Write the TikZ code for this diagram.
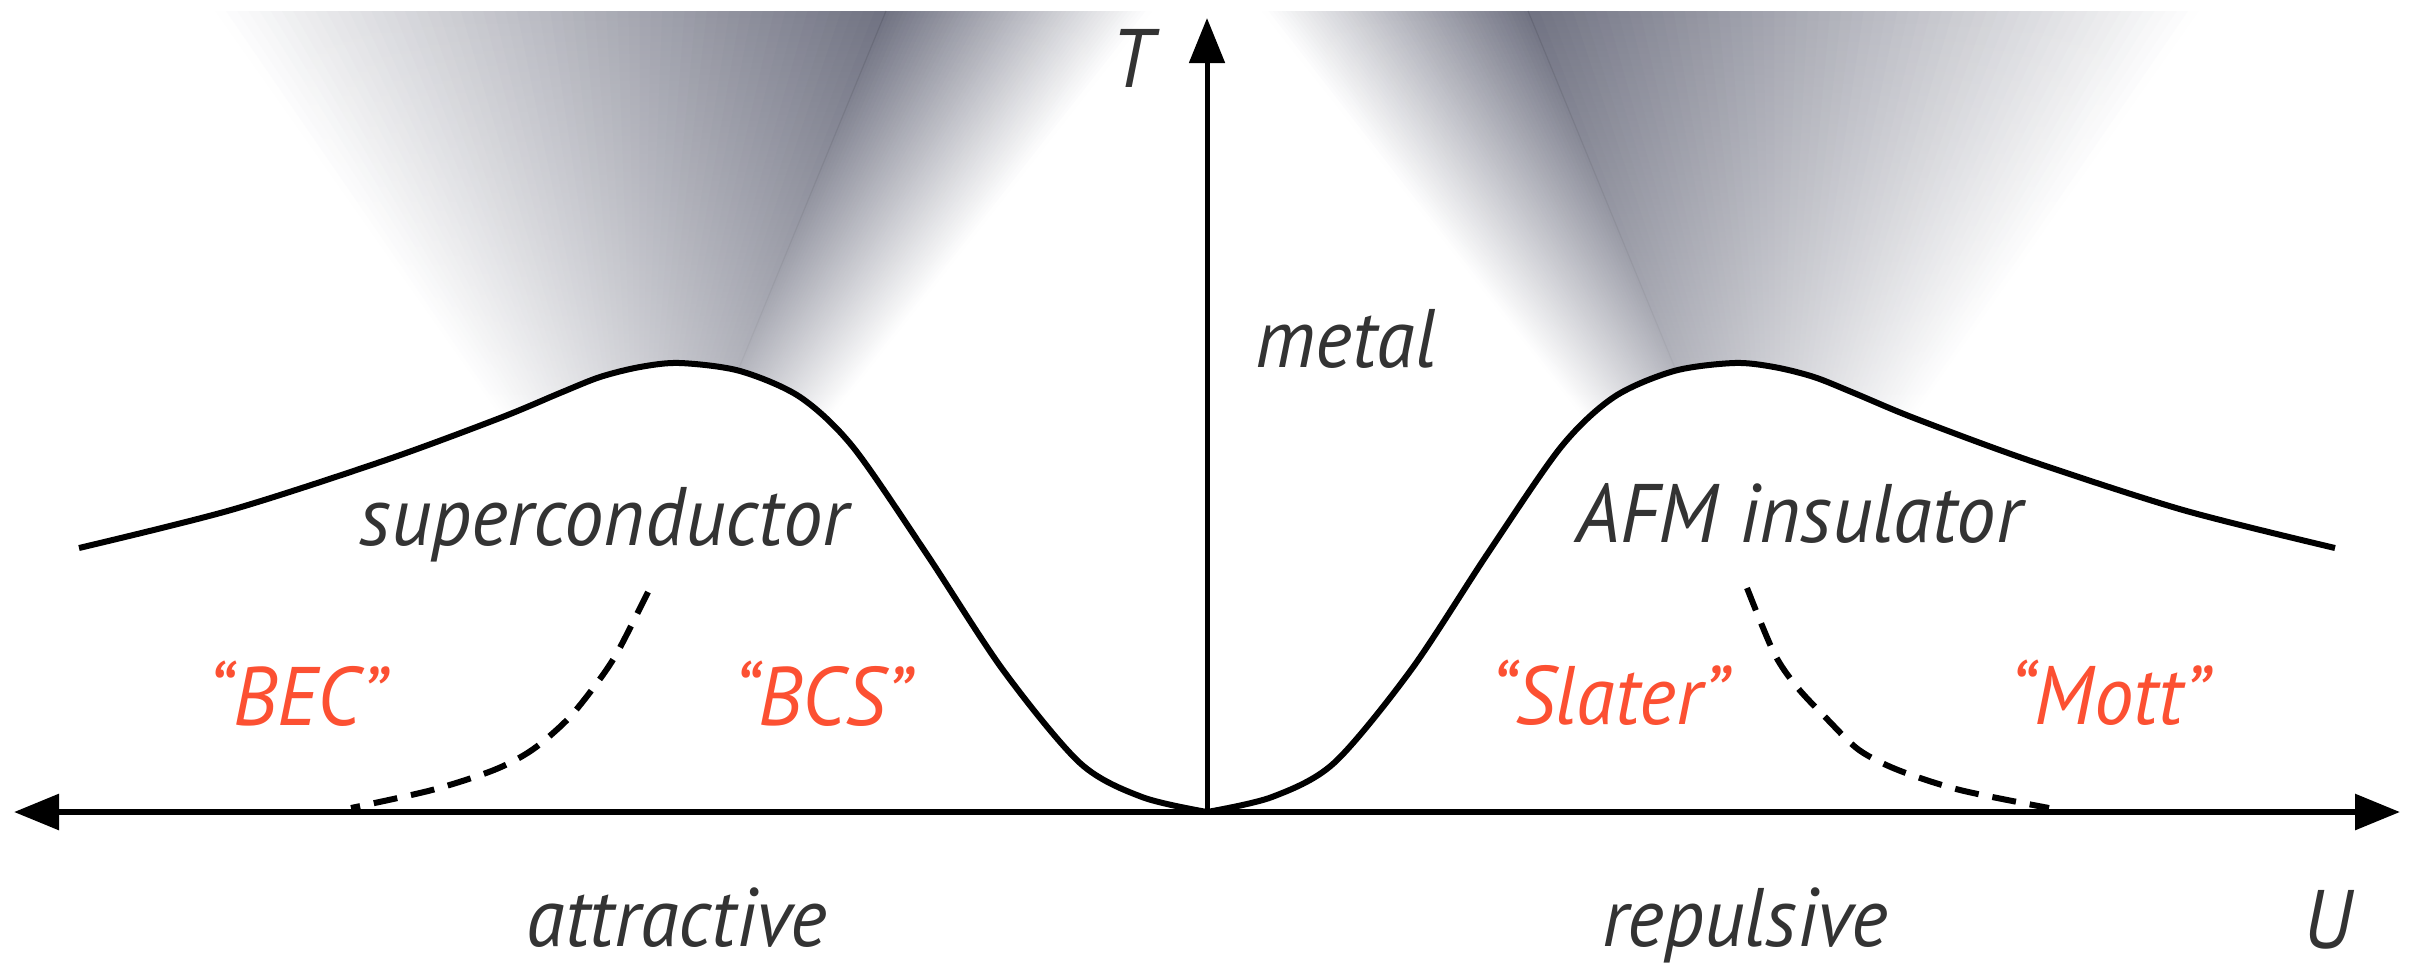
\documentclass[tikz,border=0pt]{standalone}
\usepackage{fontspec}
\newfontfamily\labfont{PT Sans}[FakeStretch=0.95]
\usetikzlibrary{arrows.meta,fadings}
\definecolor{shd}{RGB}{112,114,130}
\definecolor{txt}{RGB}{51,51,51}
\definecolor{hot}{RGB}{252,80,50}
\tikzfading[name=downfade, top color=transparent!100, bottom color=transparent!40]
\begin{document}
\begin{tikzpicture}[x=0.01cm,y=-0.01cm,
  lab/.style={font=\labfont\itshape\fontsize{23.6}{28}\selectfont, text=txt, inner sep=0, anchor=base},
  regime/.style={lab, text=hot},
  axisline/.style={line width=0.06cm, -{Triangle[length=0.45cm,width=0.35cm]}},
  tcline/.style={line width=0.06cm, line join=round},
  crossover/.style={line width=0.06cm, dash pattern=on 0.24cm off 0.14cm},
  crease/.style={shd!70!black, line width=0.012cm, opacity=0.35}]
\useasboundingbox (0,0) rectangle (2415,966);

% ---- shaded fans above the two domes (solid overlapping stripes)
\foreach \s in {1,-1}{
  \foreach \i in {0,...,59}{
    \pgfmathsetmacro{\ta}{\i/60}
    \pgfmathsetmacro{\tb}{(\i+1.6)/60}
    \pgfmathsetmacro{\xat}{1207+\s*(215+(886-215)*\ta-1207)}
    \pgfmathsetmacro{\xbt}{1207+\s*(215+(886-215)*\tb-1207)}
    \pgfmathsetmacro{\xab}{1207+\s*(539+(697-539)*\ta-1207)}
    \pgfmathsetmacro{\xbb}{1207+\s*(539+(697-539)*\tb-1207)}
    \pgfmathsetmacro{\pt}{100*(\i+0.5)/60}
    \fill[shd!\pt!white] (\xat,11) -- (\xbt,11) -- (\xbb,470) -- (\xab,470) -- cycle;
  }
  \foreach \i in {0,...,59}{
    \pgfmathsetmacro{\ta}{\i/60}
    \pgfmathsetmacro{\tb}{(\i+1.6)/60}
    \pgfmathsetmacro{\xat}{1207+\s*(886+(1150-886)*\ta-1207)}
    \pgfmathsetmacro{\xbt}{1207+\s*(886+(1150-886)*\tb-1207)}
    \pgfmathsetmacro{\xab}{1207+\s*(697+(788-697)*\ta-1207)}
    \pgfmathsetmacro{\xbb}{1207+\s*(697+(788-697)*\tb-1207)}
    \pgfmathsetmacro{\pt}{100*(1-(\i+0.5)/60)}
    \fill[shd!\pt!white] (\xat,11) -- (\xbt,11) -- (\xbb,470) -- (\xab,470) -- cycle;
  }
}
% faint creases along the ridges
\draw[crease] (886,11) -- (697,470);
\draw[crease] (1528,11) -- (1717,470);
% vertical lightening towards the domes
\fill[white, path fading=downfade] (150,11) rectangle (2265,470);

% ---- white interiors of the domes
\fill[white] plot[smooth] coordinates {(79,548) (231,510) (386,460) (500,418) (560,393) (600,377) (640,367) (680,363) (740,371) (800,397) (853,447) (926,553) (1003,670) (1080,763) (1142,797) (1207,812)} -- (79,812) -- cycle;
\fill[white] plot[smooth] coordinates {(2335,548) (2183,510) (2028,460) (1914,418) (1854,393) (1814,377) (1774,367) (1734,363) (1674,371) (1614,397) (1561,447) (1488,553) (1411,670) (1334,763) (1272,797) (1207,812)} -- (2335,812) -- cycle;

% ---- axes
\coordinate (O) at (1207,812);
\coordinate (Uneg) at (14,812);
\coordinate (Upos) at (2400,812);
\coordinate (Ttop) at (1207,18);
\draw[axisline] (O) -- (Uneg);
\draw[axisline] (O) -- (Upos);
\draw[axisline, line width=0.05cm] (O) -- (Ttop);

% ---- transition lines
\draw[tcline] plot[smooth] coordinates {(79,548) (231,510) (386,460) (500,418) (560,393) (600,377) (640,367) (680,363) (740,371) (800,397) (853,447) (926,553) (1003,670) (1080,763) (1142,797) (1207,812)};
\draw[tcline] plot[smooth] coordinates {(2335,548) (2183,510) (2028,460) (1914,418) (1854,393) (1814,377) (1774,367) (1734,363) (1674,371) (1614,397) (1561,447) (1488,553) (1411,670) (1334,763) (1272,797) (1207,812)};

% ---- crossovers
\draw[crossover] plot[smooth] coordinates {(648,592) (617,653) (594,687) (567,720) (532,750) (494,770) (432,790) (351,808)};
\draw[crossover] plot[smooth] coordinates {(1747,588) (1774,653) (1797,687) (1828,720) (1859,750) (1898,770) (1960,790) (2049,808)};

% ---- labels
\node[lab] (Tlab) at (1132,87) {T};
\node[lab] (Ulab) at (2328,948) {U};
\node[lab] (metal) at (1346,367) {metal};
\node[lab] (sc) at (604,545) {superconductor};
\node[lab] (afm) at (1799,542) {AFM insulator};
\node[lab] (attr) at (677,946) {attractive};
\node[lab] (rep) at (1745,946) {repulsive};
\node[regime] (bec) at (297,725) {“BEC”};
\node[regime] (bcs) at (822,725) {“BCS”};
\node[regime] (slater) at (1609,724) {“Slater”};
\node[regime] (mott) at (2109,724) {“Mott”};
\end{tikzpicture}
\end{document}
